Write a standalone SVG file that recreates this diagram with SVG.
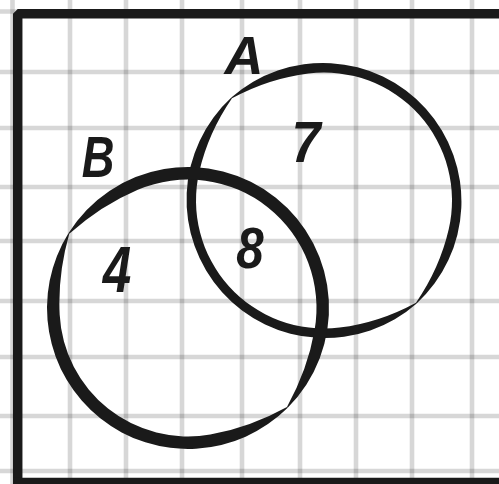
<svg xmlns="http://www.w3.org/2000/svg" width="499" height="484" viewBox="0 0 499 484">
<style>
.grid line{stroke:#000;stroke-opacity:0.155;stroke-width:4.6}
.frame{fill:none;stroke:#1a1a1a;stroke-width:9.5}
.ink{fill:#1a1a1a}
.lbl{font-family:"Liberation Sans",Arial,sans-serif;font-weight:bold;font-style:italic;fill:#1a1a1a;text-anchor:middle}
</style>
<rect width="499" height="484" fill="#fff"/>
<g class="grid" id="grid">
<line x1="12.5" y1="0" x2="12.5" y2="484"/>
<line x1="70" y1="0" x2="70" y2="484"/>
<line x1="126" y1="0" x2="126" y2="484"/>
<line x1="182" y1="0" x2="182" y2="484"/>
<line x1="242" y1="0" x2="242" y2="484"/>
<line x1="300" y1="0" x2="300" y2="484"/>
<line x1="356" y1="0" x2="356" y2="484"/>
<line x1="412" y1="0" x2="412" y2="484"/>
<line x1="472" y1="0" x2="472" y2="484"/>
<line x1="0" y1="11.5" x2="499" y2="11.5"/>
<line x1="0" y1="72" x2="499" y2="72"/>
<line x1="0" y1="128" x2="499" y2="128"/>
<line x1="0" y1="187" x2="499" y2="187"/>
<line x1="0" y1="241" x2="499" y2="241"/>
<line x1="0" y1="301" x2="499" y2="301"/>
<line x1="0" y1="357" x2="499" y2="357"/>
<line x1="0" y1="416" x2="499" y2="416"/>
<line x1="0" y1="471" x2="499" y2="471"/>
</g>
<g id="frame">
<path class="frame" d="M17.7 490 V13.7 H505" stroke-linejoin="bevel"/>
<path class="frame" d="M13 482.5 H505"/>
</g>
<g id="setA">
<path class="ink" d="M231.33 97.58 A138.5 138.5 0 0 1 416.67 303.42 L416 302.68 Q439.72 268.28 448.72 229.3 A128 128 0 0 0 308.4 73.46 Q268.7 78.34 232 98.32 Z"/>
<path class="ink" d="M416.67 303.42 A138.5 138.5 0 0 1 231.33 97.58 L232 98.32 Q208.28 132.72 199.28 171.7 A128 128 0 0 0 339.6 327.54 Q379.3 322.66 416 302.68 Z"/>
<text class="lbl" x="244" y="74" font-size="54">A</text>
</g>
<g id="setB">
<path class="ink" d="M68.43 233.28 A141 141 0 1 1 287.7 407.7 L286.99 406.99 Q307.61 369.7 314.55 330.31 A128.5 128.5 0 0 0 137.79 189.72 Q100.97 205.35 69.28 233.81 Z"/>
<path class="ink" d="M287.7 407.7 A141 141 0 0 1 68.43 233.28 L69.28 233.81 Q57.59 274.78 59.68 314.72 A128.5 128.5 0 0 0 210.31 434.55 Q249.7 427.61 286.99 406.99 Z"/>
<text class="lbl" font-size="58" transform="translate(98 177) scale(0.78 1)">B</text>
</g>
<g id="onlyA"><text class="lbl" font-size="58" transform="translate(306 162) scale(0.9 1)">7</text></g>
<g id="both"><text class="lbl" font-size="58" transform="translate(250 268) scale(0.85 1)">8</text></g>
<g id="onlyB"><text class="lbl" font-size="64" transform="translate(117 292) scale(0.8 1)">4</text></g>
</svg>
